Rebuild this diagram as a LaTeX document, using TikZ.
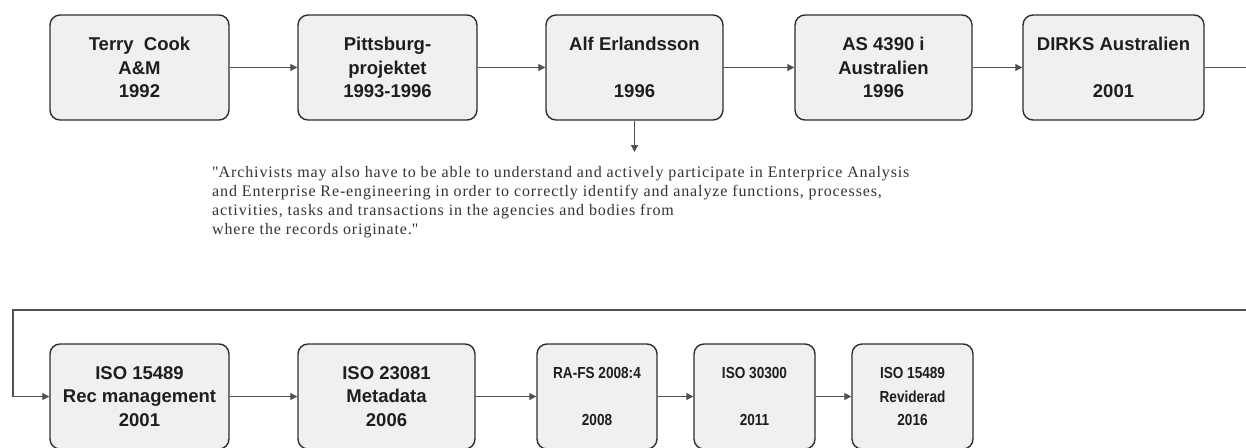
\documentclass[tikz,border=0pt]{standalone}
\usepackage{fontspec}
\setmainfont{Liberation Serif}
\newfontfamily\boxfont{Liberation Sans}
\newfontfamily\narrowfont[FakeStretch=0.85]{Liberation Sans}
\newfontfamily\quotefont[LetterSpace=5.5]{Liberation Serif}
\usetikzlibrary{arrows.meta}
\definecolor{boxfill}{HTML}{F0F0F0}
\definecolor{boxline}{HTML}{2E2E2E}
\definecolor{conn}{HTML}{505050}
\definecolor{txt}{HTML}{1E1E1E}
\tikzset{
  stagebox/.style={draw=boxline, line width=1.4pt, fill=boxfill, rounded corners=10pt,
    minimum height=105pt, inner sep=0pt, align=center, text=txt,
    font=\boxfont\bfseries\fontsize{18.5}{23.5}\selectfont},
  smallbox/.style={stagebox, font=\narrowfont\bfseries\fontsize{16}{23.5}\selectfont},
  flow/.style={draw=conn, line width=1.3pt, -{Triangle[length=7pt,width=7pt]}},
  quote/.style={anchor=north west, inner sep=0pt, align=left, text=black!80,
    font=\quotefont\fontsize{16}{19}\selectfont}
}
\begin{document}
\begin{tikzpicture}[x=1pt,y=-1pt]
\useasboundingbox (0,0) rectangle (1246,447);
\clip (0,0) rectangle (1246,447);
\node[stagebox, minimum width=179pt] (b1) at (139.5,67.5) {Terry\ \ Cook\\A\&M\\1992};
\node[stagebox, minimum width=179pt] (b2) at (387.5,67.5) {Pittsburg-\\projektet\\1993-1996};
\node[stagebox, minimum width=177pt] (b3) at (634.5,67.5) {Alf Erlandsson\\\mbox{}\\1996};
\node[stagebox, minimum width=177pt] (b4) at (883.5,67.5) {AS 4390 i\\Australien\\1996};
\node[stagebox, minimum width=181pt] (b5) at (1113.5,67.5) {DIRKS Australien\\\mbox{}\\2001};
\node[stagebox, minimum width=179pt] (b6) at (139.5,396.5) {ISO 15489\\Rec management\\2001};
\node[stagebox, minimum width=177pt] (b7) at (386.5,396.5) {ISO 23081\\Metadata\\2006};
\node[smallbox, minimum width=120pt] (b8) at (597,396.5) {RA-FS 2008:4\\\mbox{}\\2008};
\node[smallbox, minimum width=121pt] (b9) at (754.5,396.5) {ISO 30300\\\mbox{}\\2011};
\node[smallbox, minimum width=121pt] (b10) at (912.5,396.5) {ISO 15489\\Reviderad\\2016};
\node[quote] (q) at (212,166) {\textquotedbl Archivists may also have to be able to understand and actively participate in Enterprice Analysis\\
and Enterprise Re-engineering in order to correctly identify and analyze functions, processes,\\
activities, tasks and transactions in the agencies and bodies from\\
where the records originate.\textquotedbl};
\coordinate (qtop) at (634.5,152);
\draw[flow] (b1) -- (b2);
\draw[flow] (b2) -- (b3);
\draw[flow] (b3) -- (b4);
\draw[flow] (b4) -- (b5);
\draw[flow] (b3.south) -- (qtop);
\draw[flow] (b5.east) -- (1260,67.5) -- (1260,310) -- (13,310) -- (13,396.5) -- (b6.west);
\draw[flow] (b6) -- (b7);
\draw[flow] (b7) -- (b8);
\draw[flow] (b8) -- (b9);
\draw[flow] (b9) -- (b10);
\end{tikzpicture}
\end{document}
